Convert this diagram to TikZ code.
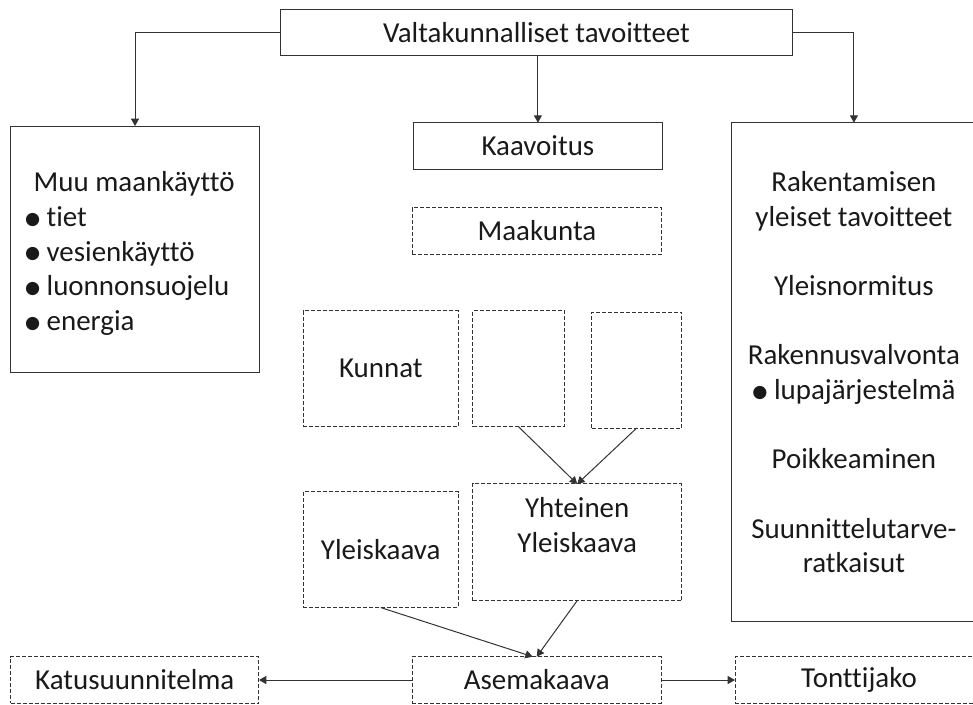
\documentclass[tikz,border=0pt]{standalone}
\usepackage{fontspec}
\setmainfont{Carlito}[Ligatures=CommonOff]
\newfontfamily\symfont{DejaVu Sans}
\usetikzlibrary{arrows.meta}
\newcommand\bul{\raisebox{1.6pt}{\symfont\fontsize{13}{13}\selectfont ●}}
\begin{document}
\begin{tikzpicture}[x=0.75pt,y=-0.75pt,
  every node/.style={font={\fontsize{21.7}{26}\selectfont}, text=black!90, inner sep=0pt, outer sep=0pt},
  solidbox/.style={draw=black!80, line width=0.75pt},
  dashbox/.style={draw=black!80, line width=0.75pt, dash pattern=on 3pt off 1.5pt},
  conn/.style={draw=black!80, line width=0.75pt, -{Triangle[length=5.5pt,width=6pt]}}]
\useasboundingbox (0,0) rectangle (973,704);
\clip (0,0) rectangle (973,704);
% boxes
\node[solidbox, minimum width=384.3pt, minimum height=34.7pt] (V) at (536.5,32.2) {Valtakunnalliset tavoitteet};
\node[solidbox, minimum width=186.5pt, minimum height=184.5pt] (muu) at (135,249) {};
\node[anchor=west, align=left] (muutext) at (25,253.5) {\hspace*{6.5pt}Muu maankäyttö\\\bul\ tiet\\\bul\ vesienkäyttö\\\bul\ luonnonsuojelu\\\bul\ energia};
\node[solidbox, minimum width=186.9pt, minimum height=35.1pt] (K) at (537.9,146.1) {Kaavoitus};
\node[dashbox, minimum width=187.3pt, minimum height=35pt] (maak) at (536.9,231) {Maakunta};
\node[dashbox, minimum width=116.3pt, minimum height=87pt] (kunnat) at (380.8,368.7) {Kunnat};
\node[dashbox, minimum width=68.7pt, minimum height=87pt] (ms) at (518.5,368.7) {};
\node[dashbox, minimum width=67.5pt, minimum height=87pt] (rs) at (636.7,370) {};
\node[dashbox, minimum width=116pt, minimum height=86.9pt] (yleis) at (380.7,549.6) {Yleiskaava};
\node[dashbox, minimum width=156.8pt, minimum height=87.5pt, align=center] (yht) at (577.2,542.3) {Yhteinen\\Yleiskaava\\\mbox{}};
\node[dashbox, minimum width=186.2pt, minimum height=35pt] (katu) at (134.8,680) {Katusuunnitelma};
\node[dashbox, minimum width=186.5pt, minimum height=35pt] (ase) at (536.7,680) {Asemakaava};
\node[dashbox, minimum width=186pt, minimum height=35pt] (tontti) at (859,680) {Tonttijako};
\node[solidbox, minimum width=183.2pt, minimum height=374.3pt, align=center] (R) at (853.9,372.2) {Rakentamisen\\yleiset tavoitteet\\[26pt]Yleisnormitus\\[26pt]Rakennusvalvonta\\\bul\ lupajärjestelmä\\[26pt]Poikkeaminen\\[26pt]Suunnittelutarve-\\ratkaisut};
% connectors
\draw[conn] (V.west) -| (muu.north);
\draw[conn] (V.east) -| (R.north);
\draw[conn] (K.north |- V.south) -- (K.north);
\draw[conn] (ms.south) -- (yht.north);
\draw[conn] (rs.south) -- (yht.north);
\draw[conn] (yleis.south) -- ([xshift=-3pt]ase.north);
\draw[conn] (yht.south) -- (ase.north);
\draw[conn] (ase.west) -- (katu.east);
\draw[conn] (ase.east) -- (tontti.west);
\end{tikzpicture}
\end{document}
